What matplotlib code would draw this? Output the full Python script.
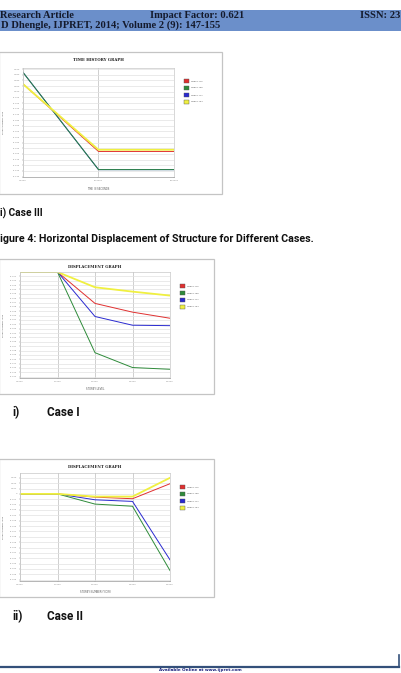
import numpy as np
import matplotlib
matplotlib.use('Agg')
import matplotlib.pyplot as plt
from matplotlib.patches import Rectangle

W, H = 401, 673

# --- data ---
legend_names = ['Node 1776', 'Node 1758', 'Node 1771', 'Node 1764']
colors = ['#e03030', '#2e8b3a', '#2a2ad0', '#f0f040']
draw_order = [0, 2, 1, 3]  # red, blue, green, yellow

# chart 1 : time history (case III)
t_steps = [0, 1, 2]
t_ticklabels = ['0.0000', '10.0000', '20.0000']
th_red = [0.0235, -0.0955, -0.0955]
th_green = [0.0441, -0.1276, -0.1276]
th_blue = [0.0441, -0.1276, -0.1276]
th_yellow = [0.0235, -0.0925, -0.0925]

# chart 2 : displacement, case I
storey = [0, 1, 2, 3, 4]
storey_ticklabels = ['0.0000', '1.0000', '2.0000', '3.0000', '4.0000']
c1_red = [0, 0, -0.0072, -0.0092, -0.0106]
c1_green = [0, 0, -0.0185, -0.0219, -0.0223]
c1_blue = [0, 0, -0.0102, -0.0122, -0.0123]
c1_yellow = [0, 0, -0.0035, -0.0045, -0.0054]

# chart 3 : displacement, case II
c2_red = [0, 0, -0.0006, -0.0009, 0.0019]
c2_green = [0, 0, -0.0019, -0.0023, -0.0143]
c2_blue = [0, 0, -0.0011, -0.0014, -0.0123]
c2_yellow = [0, 0, -0.0005, -0.0005, 0.0030]

fig = plt.figure(figsize=(W / 100, H / 100), dpi=100)


def fx(x):
    return x / W


def fy(y):
    return 1 - y / H


def px_axes(x0, y0, x1, y1):
    return fig.add_axes([fx(x0), fy(y1), (x1 - x0) / W, (y1 - y0) / H])


def frame(x0, y0, x1, y1):
    fig.add_artist(Rectangle((fx(x0), fy(y1)), (x1 - x0) / W, (y1 - y0) / H,
                             transform=fig.transFigure, fill=False,
                             edgecolor='#c4c4c4', lw=0.9))


def chart(box, plot, title, xlabel, x, xtl, series, ylim, yticks, yfmt, leg_y):
    frame(*box)
    ax = px_axes(*plot)
    for i in draw_order:
        c = colors[i]
        lw = 1.3 if i == 3 else 0.7
        ax.plot(x, series[i], color=c, lw=lw, solid_joinstyle='miter')
    ax.set_xlim(x[0], x[-1])
    ax.set_ylim(*ylim)
    ax.set_xticks(x)
    ax.set_xticklabels(xtl, fontsize=1.6, color='#555555')
    ax.set_yticks(yticks)
    ax.set_yticklabels([yfmt(v) for v in yticks], fontsize=1.6, color='#555555')
    ax.tick_params(length=1, width=0.3, pad=1, colors='#888888')
    ax.grid(axis='y', color='#e2e2e2', lw=0.5)
    ax.grid(axis='x', color='#c8c8c8', lw=0.6)
    ax.set_axisbelow(True)
    for s in ax.spines.values():
        s.set_color('#c8c8c8')
        s.set_linewidth(0.5)
    ax.spines['bottom'].set_color('#999999')
    cx = (plot[0] + plot[2]) / 2
    fig.text(fx(cx), fy(box[1] + 8), title, fontsize=2.8, fontweight='bold',
             family='DejaVu Serif', ha='center', va='center', color='#222222')
    fig.text(fx(cx), fy(box[3] - 5), xlabel, fontsize=1.8, ha='center',
             va='center', color='#555555')
    fig.text(fx(3), fy((plot[1] + plot[3]) / 2), 'DISPLACEMENT IN M', fontsize=1.6,
             rotation=90, ha='center', va='center', color='#555555')
    lx = plot[2] + 10
    for i, (name, c) in enumerate(zip(legend_names, colors)):
        y = leg_y + 7 * i
        fig.add_artist(Rectangle((fx(lx), fy(y + 1.6)), 5 / W, 3.2 / H,
                                 transform=fig.transFigure, facecolor=c,
                                 edgecolor='#555555', lw=0.3))
        fig.text(fx(lx + 7), fy(y), name, fontsize=1.5, va='center',
                 color='#555555')
    return ax


# header band
fig.add_artist(Rectangle((0, fy(30.5)), 1, 20 / H, transform=fig.transFigure,
                         facecolor='#6b8fca', edgecolor='none'))
hdr = dict(family='Liberation Serif', fontweight='bold', fontsize=7.6,
           color='#141a2c', va='center')
fig.text(fx(0), fy(15.5), 'Research Article', **hdr)
fig.text(fx(150), fy(15.5), 'Impact Factor: 0.621', **hdr)
fig.text(fx(400), fy(15.5), 'ISSN: 23', ha='right', **hdr)
fig.text(fx(1), fy(25.5), 'D Dhengle, IJPRET, 2014; Volume 2 (9): 147-155', **hdr)

# chart 1
chart((-1, 52, 222, 194), (23, 68, 174, 177), 'TIME HISTORY GRAPH',
      'TIME IN SECONDS', t_steps, t_ticklabels,
      [th_red, th_green, th_blue, th_yellow],
      (-0.1406, 0.0518), np.round(np.arange(0.05, -0.145, -0.01), 3),
      lambda v: '%.3f' % v, 81)

cap = dict(family=['Roboto', 'DejaVu Sans'], fontweight='bold',
           color='#111111', va='center')
fig.text(fx(0), fy(213), 'i) Case III', fontsize=7.3, **cap)
fig.text(fx(0), fy(239), 'igure 4: Horizontal Displacement of Structure for Different Cases.',
         fontsize=7.7, **cap)

# chart 2
chart((-1, 259, 214, 394), (20, 272, 170, 378), 'DISPLACEMENT GRAPH',
      'STOREY LEVEL', storey, storey_ticklabels,
      [c1_red, c1_green, c1_blue, c1_yellow],
      (-0.0243, 0.0), np.round(np.arange(-0.001, -0.0245, -0.001), 3),
      lambda v: '%.3f' % v, 286)
fig.text(fx(12), fy(413), 'i)', fontsize=8.5, **cap)
fig.text(fx(47), fy(413), 'Case I', fontsize=8.5, **cap)

# chart 3
chart((-1, 459, 214, 597), (20, 473, 170, 581), 'DISPLACEMENT GRAPH',
      'STOREY NUMBER (Y-DIR)', storey, storey_ticklabels,
      [c2_red, c2_green, c2_blue, c2_yellow],
      (-0.01625, 0.0039), np.round(np.arange(0.003, -0.0165, -0.001), 3),
      lambda v: '0' if v == 0 else '%.3f' % v, 487)
fig.text(fx(12), fy(617), 'ii)', fontsize=8.5, **cap)
fig.text(fx(47), fy(617), 'Case II', fontsize=8.5, **cap)

# footer rule
fig.add_artist(plt.Line2D([0, fx(399)], [fy(667), fy(667)], transform=fig.transFigure,
                          color='#34507a', lw=1.6))
fig.add_artist(plt.Line2D([fx(399), fx(399)], [fy(667), fy(655)],
                          transform=fig.transFigure, color='#34507a', lw=1.2))
fig.text(fx(200), fy(670.5), 'Available Online at www.ijpret.com', fontsize=3,
         ha='center', va='center', color='#1a237e', fontweight='bold')

fig.savefig('out.png', dpi=100)
